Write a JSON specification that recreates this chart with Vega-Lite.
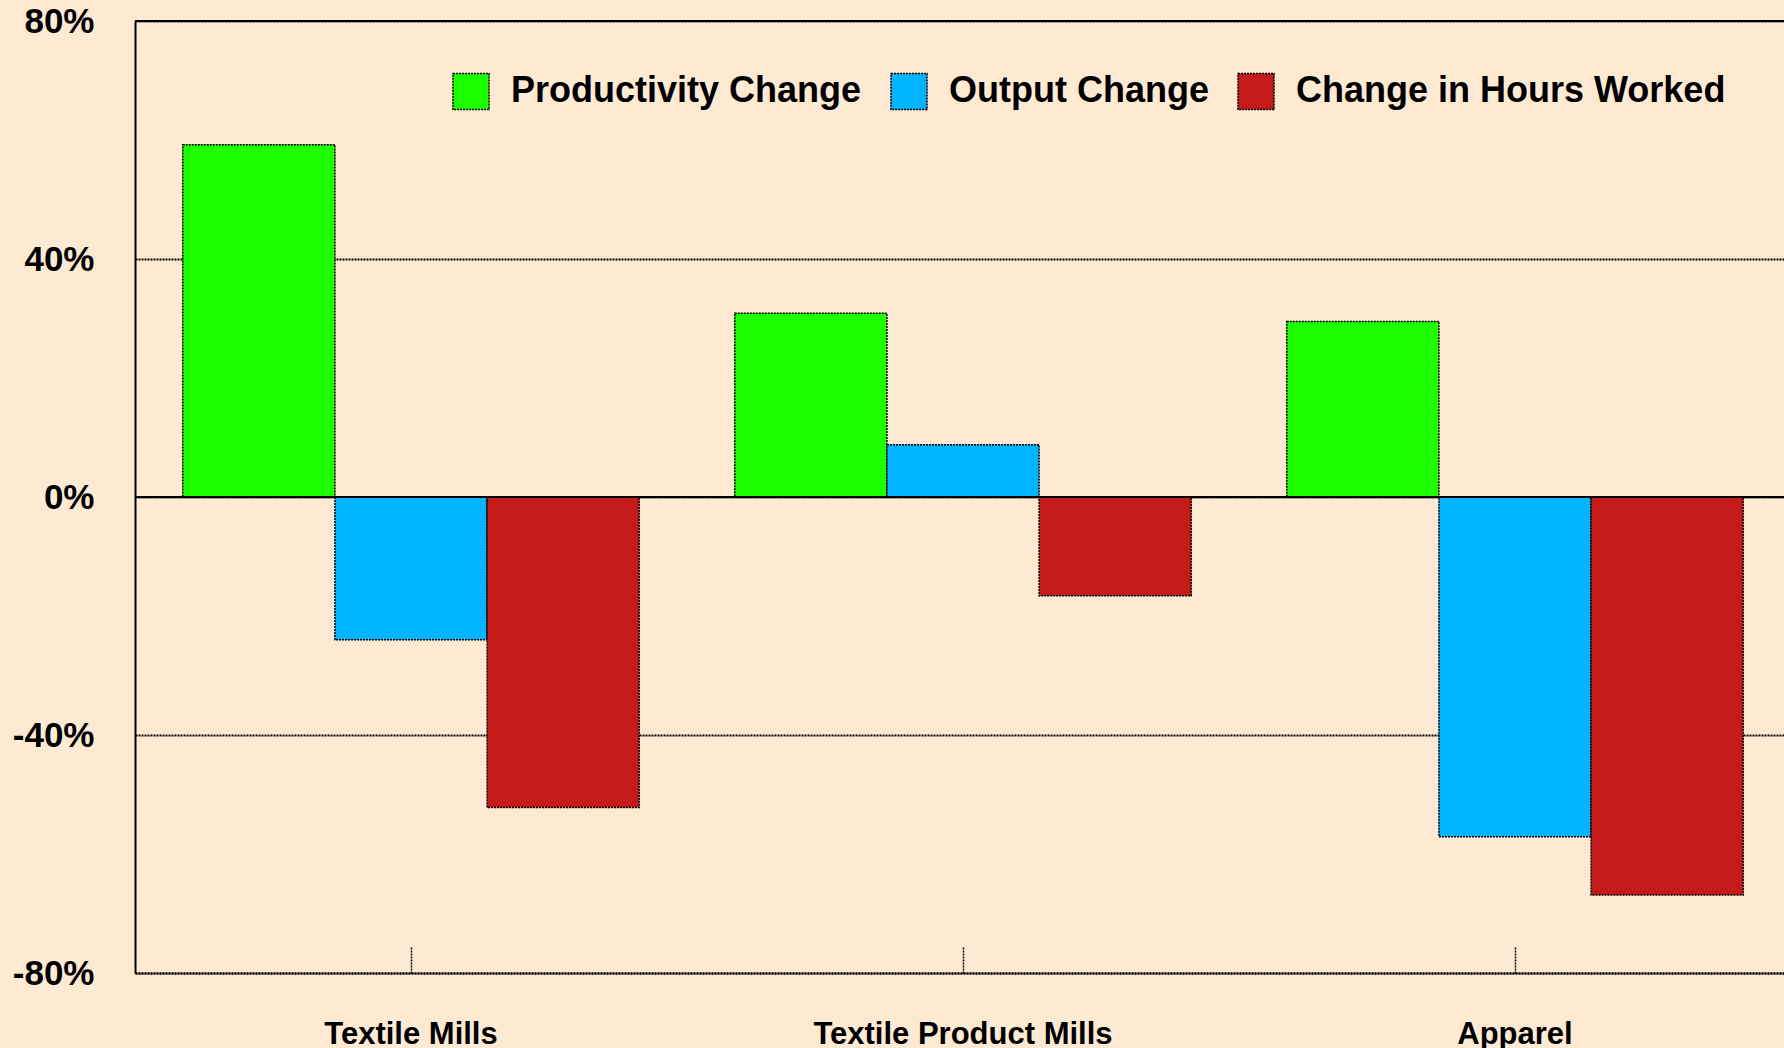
{
  "$schema": "https://vega.github.io/schema/vega-lite/v6.json",
  "width": 1656,
  "height": 952,
  "autosize": {"type": "none"},
  "padding": {"left": 135, "top": 21, "right": -7, "bottom": 75},
  "background": "#FEEAD3",
  "config": {"view": {"stroke": null}, "font": "Liberation Sans"},
  "data": {
    "values": [
      {"industry": "Textile Mills", "measure": "Productivity Change", "value": 59.2},
      {"industry": "Textile Mills", "measure": "Output Change", "value": -24.0},
      {"industry": "Textile Mills", "measure": "Change in Hours Worked", "value": -52.2},
      {"industry": "Textile Product Mills", "measure": "Productivity Change", "value": 30.9},
      {"industry": "Textile Product Mills", "measure": "Output Change", "value": 8.8},
      {"industry": "Textile Product Mills", "measure": "Change in Hours Worked", "value": -16.6},
      {"industry": "Apparel", "measure": "Productivity Change", "value": 29.5},
      {"industry": "Apparel", "measure": "Output Change", "value": -57.1},
      {"industry": "Apparel", "measure": "Change in Hours Worked", "value": -66.9}
    ]
  },
  "layer": [
    {
      "mark": {"type": "bar", "stroke": "black", "strokeWidth": 1.5, "strokeDash": [2, 1], "opacity": 1},
      "encoding": {
        "x": {
          "field": "industry",
          "type": "nominal",
          "sort": ["Textile Mills", "Textile Product Mills", "Apparel"],
          "scale": {"paddingInner": 0.173, "paddingOuter": 0.0865},
          "axis": {
            "title": null,
            "domain": true,
            "domainColor": "black",
            "domainDash": [2, 1],
            "domainWidth": 2,
            "ticks": true,
            "tickSize": -27,
            "tickColor": "black",
            "tickDash": [2, 1],
            "tickWidth": 1.5,
            "labelFont": "Liberation Sans",
            "labelFontSize": 31,
            "labelFontWeight": "bold",
            "labelColor": "black",
            "labelPadding": 73,
            "labelAngle": 0,
            "labelBaseline": "top",
            "labelLimit": 0
          }
        },
        "xOffset": {
          "field": "measure",
          "type": "nominal",
          "sort": ["Productivity Change", "Output Change", "Change in Hours Worked"],
          "scale": {"paddingInner": 0, "paddingOuter": 0}
        },
        "y": {
          "field": "value",
          "type": "quantitative",
          "scale": {"domain": [-80, 80], "nice": false},
          "axis": {
            "values": [-80, -40, 0, 40, 80],
            "labelExpr": "datum.value + '%'",
            "title": null,
            "grid": true,
            "gridColor": "black",
            "gridDash": [2, 1],
            "gridWidth": 2,
            "gridOpacity": 1,
            "domain": true,
            "domainColor": "black",
            "domainWidth": 2,
            "ticks": false,
            "labelFont": "Liberation Sans",
            "labelFontWeight": "bold",
            "labelFontSize": 35,
            "labelColor": "black",
            "labelPadding": 41
          }
        },
        "color": {
          "field": "measure",
          "type": "nominal",
          "scale": {
            "domain": ["Productivity Change", "Output Change", "Change in Hours Worked"],
            "range": ["#1EFF00", "#00B4FF", "#C41A1A"]
          },
          "legend": {
            "orient": "none",
            "legendX": 317,
            "legendY": 51,
            "direction": "horizontal",
            "title": null,
            "symbolType": "square",
            "symbolSize": 1300,
            "symbolStrokeColor": "black",
            "symbolStrokeWidth": 1.5,
            "symbolDash": [2, 1],
            "symbolOpacity": 1,
            "labelFont": "Liberation Sans",
            "labelFontSize": 36,
            "labelFontWeight": "bold",
            "labelColor": "black",
            "labelOffset": 21,
            "columnPadding": 25,
            "padding": 0,
            "labelLimit": 0
          }
        }
      }
    },
    {
      "mark": {"type": "rule", "color": "black", "strokeWidth": 2},
      "encoding": {"y": {"datum": 0}}
    },
    {
      "mark": {"type": "rule", "color": "black", "strokeWidth": 2},
      "encoding": {"y": {"datum": 80}}
    }
  ]
}
